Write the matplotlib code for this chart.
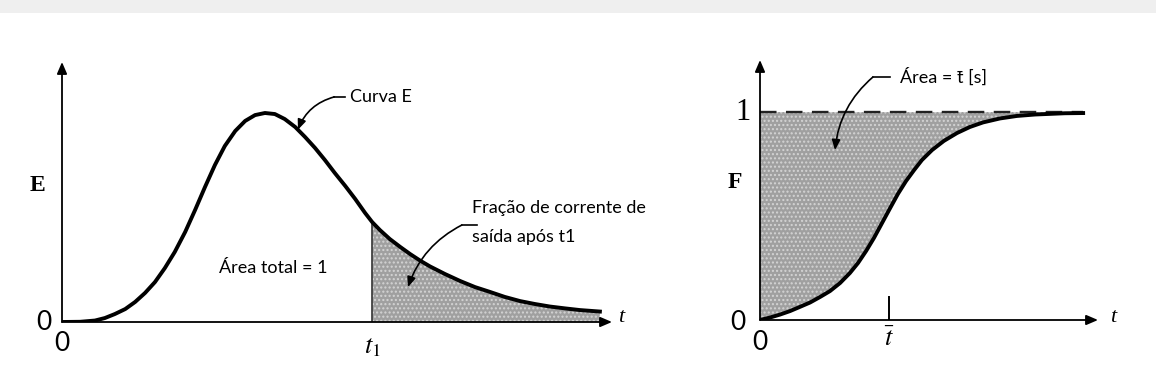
import numpy as np
import matplotlib
matplotlib.use("Agg")
import matplotlib.pyplot as plt
from matplotlib.patches import Rectangle

plt.rcParams["mathtext.fontset"] = "stix"

e_t = [0.0, 0.33, 0.60, 0.78, 0.96, 1.15, 1.33, 1.51, 1.69, 1.87, 2.05, 2.24,
       2.42, 2.60, 2.78, 2.96, 3.15, 3.33, 3.51, 3.69, 3.87, 4.05, 4.24, 4.42,
       4.60, 4.78, 4.96, 5.15, 5.33, 5.51, 5.64, 5.78, 5.96, 6.15, 6.33, 6.51,
       6.69, 6.96, 7.24, 7.51, 7.78, 8.05, 8.33, 8.60, 8.87, 9.15, 9.42, 9.78]
e_val = [0.0, 0.001, 0.007, 0.019, 0.038, 0.062, 0.096, 0.139, 0.191, 0.258,
         0.335, 0.431, 0.536, 0.646, 0.751, 0.842, 0.914, 0.962, 0.990, 1.0,
         0.995, 0.971, 0.933, 0.885, 0.833, 0.775, 0.713, 0.651, 0.589, 0.522,
         0.478, 0.440, 0.397, 0.359, 0.325, 0.294, 0.266, 0.230, 0.196, 0.167,
         0.144, 0.120, 0.100, 0.086, 0.074, 0.065, 0.057, 0.050]
t1 = 5.64

f_t = [0.0, 0.30, 0.59, 0.89, 1.18, 1.48, 1.78, 2.07, 2.37, 2.66, 2.90, 3.14,
       3.37, 3.61, 3.85, 4.08, 4.32, 4.56, 4.79, 5.09, 5.44, 5.83, 6.21, 6.60,
       7.10, 7.60, 8.14, 8.58, 9.02, 9.56]
f_val = [0.0, 0.012, 0.026, 0.043, 0.063, 0.084, 0.111, 0.139, 0.178, 0.226,
         0.274, 0.332, 0.394, 0.466, 0.538, 0.606, 0.668, 0.721, 0.769, 0.817,
         0.861, 0.899, 0.928, 0.950, 0.969, 0.981, 0.988, 0.991, 0.994, 0.995]
t_mean = 3.82

W, H = 1156, 389
fig = plt.figure(figsize=(W / 100, H / 100), dpi=100)
fig.patch.set_facecolor("white")

# light grey strip along the top edge
fig.patches.append(Rectangle((0, 1 - 13 / H), 1, 13 / H, transform=fig.transFigure,
                             facecolor="#efefef", edgecolor="none", zorder=0))

sans = ["Lato", "DejaVu Sans"]
serif = "Liberation Serif"
note_size = 13
fill_kw = dict(facecolor="#a0a0a0", edgecolor="#d4d4d4", hatch="....", linewidth=0)
arrow_kw = dict(arrowstyle="-|>,head_length=0.7,head_width=0.3", color="black",
                lw=1.3, shrinkA=0, shrinkB=0)
leader_kw = dict(arrowstyle="-|>,head_length=0.6,head_width=0.25", color="black",
                 lw=1.2, shrinkA=0, shrinkB=0)


def make_axes(x0, x1, y0, y_top, ymax):
    # axes placed in pixel units so the data maps straight onto the page
    ax = fig.add_axes([x0 / W, (H - y0) / H, (x1 - x0) / W, (y0 - y_top) / H])
    ax.set_xlim(0, 10)
    ax.set_ylim(0, ymax)
    ax.axis("off")
    ax.annotate("", xy=(0, ymax), xytext=(0, 0), arrowprops=arrow_kw,
                annotation_clip=False)
    ax.annotate("", xy=(10, 0), xytext=(0, 0), arrowprops=arrow_kw,
                annotation_clip=False)
    return ax


def leader(ax, x_text, x_bend, y, xy, rad):
    ax.plot([x_text, x_bend], [y, y], color="black", lw=1.2)
    ax.annotate("", xy=xy, xytext=(x_bend, y), annotation_clip=False,
                arrowprops=dict(leader_kw, connectionstyle=f"arc3,rad={rad}"))


# ---- left: E curve ----
ax1 = make_axes(62, 612, 322, 62, 1.244)
e_t_arr = np.array(e_t)
e_arr = np.array(e_val)
tail = e_t_arr >= t1
ax1.fill_between(e_t_arr[tail], 0, e_arr[tail], **fill_kw)
ax1.plot([t1, t1], [0, e_arr[tail][0]], color="#333333", lw=1.2)
ax1.plot(e_t, e_val, color="black", lw=2.8, solid_joinstyle="round")

ax1.text(-0.45, 0.655, "E", fontfamily=serif, fontweight="bold", fontsize=17,
         ha="center", va="center")
ax1.text(-0.33, 0.0, "0", fontfamily=sans, fontsize=19, ha="center", va="center")
ax1.text(0.0, -0.105, "0", fontfamily=sans, fontsize=19, ha="center", va="center")
ax1.text(t1, -0.115, r"$t_{\mathrm{1}}$", fontsize=19, ha="center", va="center")
ax1.text(10.16, 0.02, "t", fontfamily=serif, fontstyle="italic", fontsize=16,
         ha="center", va="center")

ax1.text(5.24, 1.077, "Curva E", fontfamily=sans, fontsize=note_size,
         ha="left", va="center")
leader(ax1, 5.15, 4.95, 1.077, (4.29, 0.92), 0.25)

ax1.text(3.84, 0.26, "Área total = 1", fontfamily=sans, fontsize=note_size,
         ha="center", va="center")
ax1.text(7.45, 0.545, "Fração de corrente de", fontfamily=sans,
         fontsize=note_size, ha="left", va="center")
ax1.text(7.45, 0.407, "saída após t1", fontfamily=sans,
         fontsize=note_size, ha="left", va="center")
leader(ax1, 7.55, 7.27, 0.464, (6.29, 0.167), 0.2)

# ---- right: F curve ----
ax2 = make_axes(760, 1098, 320, 60, 1.25)
ax2.fill_between(f_t, f_val, 1.0, **fill_kw)
ax2.plot([0, f_t[-1]], [1, 1], color="#222222", lw=1.7, dashes=(7, 4))
ax2.plot(f_t, f_val, color="black", lw=2.8, solid_joinstyle="round")
ax2.plot([t_mean, t_mean], [0, 0.11], color="black", lw=1.4)

ax2.text(-0.74, 0.66, "F", fontfamily=serif, fontweight="bold", fontsize=17,
         ha="center", va="center")
ax2.text(-0.5, 1.0, "1", fontfamily=serif, fontsize=22, ha="center", va="center")
ax2.text(-0.65, -0.01, "0", fontfamily=sans, fontsize=19, ha="center", va="center")
ax2.text(0.0, -0.106, "0", fontfamily=sans, fontsize=19, ha="center", va="center")
ax2.text(t_mean, -0.09, r"$\bar{t}$", fontsize=19, ha="center", va="center")
ax2.text(10.44, 0.01, "t", fontfamily=serif, fontstyle="italic", fontsize=16,
         ha="center", va="center")

ax2.text(4.14, 1.168, "Área = t\u0304 [s]", fontfamily=sans, fontsize=note_size,
         ha="left", va="center")
leader(ax2, 3.85, 3.34, 1.168, (2.22, 0.817), 0.2)

fig.savefig("out.png", dpi=100)
